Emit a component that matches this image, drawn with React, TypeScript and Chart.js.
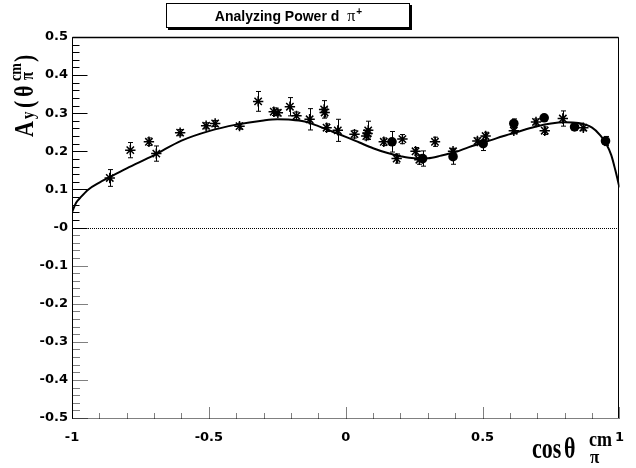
import React, { useEffect, useRef } from "react";
import { Chart, registerables } from "chart.js";

Chart.register(...registerables);

// Theory curve
const curveX = [-1.0, -0.985, -0.97, -0.94, -0.9, -0.86, -0.8, -0.7, -0.6, -0.5, -0.4, -0.3, -0.25, -0.2, -0.15, -0.1, -0.05, 0.0, 0.05, 0.1, 0.15, 0.2, 0.25, 0.3, 0.35, 0.4, 0.45, 0.5, 0.55, 0.6, 0.65, 0.7, 0.75, 0.8, 0.85, 0.9, 0.93, 0.95, 0.97, 0.985, 1.0];
const curveY = [0.04, 0.065, 0.078, 0.1, 0.118, 0.133, 0.155, 0.19, 0.228, 0.253, 0.27, 0.281, 0.284, 0.283, 0.278, 0.266, 0.252, 0.238, 0.223, 0.208, 0.196, 0.187, 0.182, 0.182, 0.189, 0.198, 0.211, 0.222, 0.234, 0.245, 0.256, 0.266, 0.273, 0.276, 0.274, 0.262, 0.242, 0.222, 0.19, 0.15, 0.105];

// Asterisk data points
const starX = [-0.862, -0.787, -0.719, -0.692, -0.605, -0.51, -0.477, -0.388, -0.32, -0.263, -0.248, -0.204, -0.18, -0.132, -0.079, -0.077, -0.07, -0.029, 0.032, 0.082, 0.08, 0.075, 0.139, 0.186, 0.207, 0.255, 0.269, 0.326, 0.392, 0.481, 0.511, 0.614, 0.695, 0.727, 0.793, 0.868];
const starY = [0.13, 0.203, 0.225, 0.194, 0.249, 0.267, 0.273, 0.266, 0.331, 0.304, 0.301, 0.317, 0.293, 0.284, 0.31, 0.302, 0.262, 0.255, 0.245, 0.255, 0.247, 0.24, 0.225, 0.181, 0.232, 0.2, 0.178, 0.225, 0.2, 0.227, 0.24, 0.254, 0.277, 0.254, 0.286, 0.262];
const starErr = [0.022, 0.02, 0.01, 0.02, 0.008, 0.008, 0.008, 0.008, 0.026, 0.01, 0.008, 0.024, 0.01, 0.028, 0.023, 0.012, 0.01, 0.029, 0.01, 0.024, 0.012, 0.01, 0.01, 0.012, 0.012, 0.01, 0.012, 0.012, 0.008, 0.008, 0.01, 0.008, 0.008, 0.01, 0.02, 0.008];

// Filled circle data points
const circleX = [0.169, 0.281, 0.392, 0.502, 0.614, 0.725, 0.836, 0.949];
const circleY = [0.225, 0.181, 0.186, 0.22, 0.273, 0.288, 0.264, 0.227];
const circleErr = [0.027, 0.02, 0.02, 0.018, 0.012, 0.008, 0.008, 0.012];

// Axis tick labels
const xTickLabels = ["-1", "-0.5", "0", "0.5", "1"];
const yTickLabels = ["-0.5", "-0.4", "-0.3", "-0.2", "-0.1", "-0", "0.1", "0.2", "0.3", "0.4", "0.5"];

const SANS = "'Liberation Sans', Arial, sans-serif";
const SERIF = "'Liberation Serif', 'Times New Roman', serif";

function piece(ctx: CanvasRenderingContext2D, text: string, font: string, x: number, y: number, k: number) {
  ctx.save();
  ctx.translate(x, y);
  ctx.scale(1, k);
  ctx.font = font;
  ctx.textAlign = "left";
  ctx.textBaseline = "alphabetic";
  ctx.fillText(text, 0, 0);
  ctx.restore();
}

const rootPlugin = {
  id: "rootStyle",
  beforeDatasetsDraw(chart: any) {
    const ctx = chart.ctx as CanvasRenderingContext2D;
    const xs = chart.scales.x;
    const ys = chart.scales.y;
    const a = chart.chartArea;
    ctx.save();
    ctx.strokeStyle = "#000";
    ctx.lineWidth = 1;
    ctx.setLineDash([1, 1]);
    const y0 = Math.round(ys.getPixelForValue(0)) + 0.5;
    ctx.beginPath();
    ctx.moveTo(a.left, y0);
    ctx.lineTo(a.right, y0);
    ctx.stroke();
    ctx.setLineDash([]);
    chart.data.datasets.forEach((ds: any) => {
      if (!ds.yErr) return;
      ds.data.forEach((p: any, i: number) => {
        const e = ds.yErr[i];
        const px = Math.round(xs.getPixelForValue(p.x)) + 0.5;
        const t = ys.getPixelForValue(p.y + e);
        const b = ys.getPixelForValue(p.y - e);
        ctx.beginPath();
        ctx.moveTo(px, t);
        ctx.lineTo(px, b);
        ctx.moveTo(px - 2.5, t);
        ctx.lineTo(px + 2.5, t);
        ctx.moveTo(px - 2.5, b);
        ctx.lineTo(px + 2.5, b);
        ctx.stroke();
      });
    });
    ctx.restore();
  },
  afterDraw(chart: any) {
    const ctx = chart.ctx as CanvasRenderingContext2D;
    const xs = chart.scales.x;
    const ys = chart.scales.y;
    const a = chart.chartArea;
    ctx.save();
    ctx.strokeStyle = "#000";
    ctx.fillStyle = "#000";
    ctx.lineWidth = 1;
    const L = Math.round(a.left) + 0.5;
    const R = Math.round(a.right) - 0.5;
    const T = Math.round(a.top) + 0.5;
    const B = Math.round(a.bottom) + 0.5;
    ctx.beginPath();
    ctx.moveTo(L, B);
    ctx.lineTo(L, T);
    ctx.lineTo(R, T);
    ctx.lineTo(R, B);
    ctx.stroke();
    ctx.lineWidth = 1.6;
    ctx.beginPath();
    ctx.moveTo(L, T);
    ctx.lineTo(R, T);
    ctx.stroke();
    ctx.lineWidth = 1;
    ctx.setLineDash([1, 1]);
    ctx.beginPath();
    ctx.moveTo(L, B);
    ctx.lineTo(R, B);
    ctx.stroke();
    for (let i = 0; i <= 20; i++) {
      const v = -1 + i * 0.1;
      const px = Math.round(xs.getPixelForValue(v)) + 0.5;
      const len = i % 5 === 0 ? 12 : 6;
      ctx.beginPath();
      ctx.moveTo(px, B);
      ctx.lineTo(px, B - len);
      ctx.stroke();
    }
    for (let i = 0; i <= 50; i++) {
      const v = -0.5 + i * 0.02;
      const py = Math.round(ys.getPixelForValue(v)) + 0.5;
      const len = i % 5 === 0 ? 15 : 7;
      ctx.setLineDash(v < -0.001 ? [1, 1] : []);
      ctx.beginPath();
      ctx.moveTo(L, py);
      ctx.lineTo(L + len, py);
      ctx.stroke();
    }
    ctx.setLineDash([]);

    // Title box with shadow
    ctx.fillStyle = "#000";
    ctx.fillRect(168, 5, 244, 25);
    ctx.fillStyle = "#fff";
    ctx.fillRect(166, 3, 244, 25);
    ctx.strokeRect(166.5, 3.5, 243, 24);
    ctx.fillStyle = "#000";
    const tf = `bold 14px ${SANS}`;
    ctx.font = tf;
    const w1 = ctx.measureText("Analyzing Power d").width;
    ctx.font = `16px ${SERIF}`;
    const w2 = ctx.measureText("  \u03c0").width;
    ctx.font = `10px ${SANS}`;
    const w3 = ctx.measureText("+").width;
    const x0 = 288 - (w1 + w2 + w3) / 2;
    piece(ctx, "Analyzing Power d", tf, x0, 21, 1);
    piece(ctx, "  \u03c0", `16px ${SERIF}`, x0 + w1, 21, 1);
    piece(ctx, "+", `bold 10px ${SANS}`, x0 + w1 + w2 + 1, 15, 1);

    // Y axis title (rotated)
    ctx.save();
    ctx.translate(33, 137);
    ctx.rotate(-Math.PI / 2);
    const k = 1.25;
    piece(ctx, "A", `bold 22px ${SERIF}`, 0, 0, k);
    piece(ctx, "y", `bold 15px ${SERIF}`, 18, 1, k);
    piece(ctx, "(", `bold 22px ${SERIF}`, 29, 0, k);
    piece(ctx, "\u03b8", `bold 22px ${SERIF}`, 40, 0, k);
    piece(ctx, "cm", `bold 14px ${SERIF}`, 56, -12, k);
    piece(ctx, "\u03c0", `bold 15px ${SERIF}`, 57, 0, k);
    piece(ctx, ")", `bold 22px ${SERIF}`, 75, 0, k);
    ctx.restore();

    // X axis title
    piece(ctx, "cos", `bold 22px ${SERIF}`, 532, 458, 1.3);
    piece(ctx, "\u03b8", `bold 22px ${SERIF}`, 564, 458, 1.3);
    piece(ctx, "cm", `bold 18px ${SERIF}`, 589, 446, 1.2);
    piece(ctx, "\u03c0", `bold 17px ${SERIF}`, 590, 463, 1.1);
    ctx.restore();
  },
};

export default function App() {
  const ref = useRef<HTMLCanvasElement | null>(null);
  useEffect(() => {
    if (!ref.current) return;
    const chart = new Chart(ref.current, {
      type: "scatter",
      data: {
        datasets: [
          {
            type: "line",
            label: "theory",
            data: curveX.map((x, i) => ({ x, y: curveY[i] })),
            borderColor: "#000",
            borderWidth: 2,
            pointRadius: 0,
            fill: false,
            cubicInterpolationMode: "monotone",
            order: 3,
          } as any,
          {
            label: "stars",
            data: starX.map((x, i) => ({ x, y: starY[i] })),
            yErr: starErr,
            pointStyle: "star",
            pointRadius: 5.2,
            borderColor: "#000",
            backgroundColor: "#000",
            borderWidth: 1.5,
            order: 2,
          } as any,
          {
            label: "circles",
            data: circleX.map((x, i) => ({ x, y: circleY[i] })),
            yErr: circleErr,
            pointStyle: "circle",
            pointRadius: 4.8,
            borderColor: "#000",
            backgroundColor: "#000",
            borderWidth: 0,
            order: 1,
          } as any,
        ],
      },
      options: {
        responsive: false,
        animation: false,
        devicePixelRatio: 1,
        layout: { padding: { top: 37, right: 4, left: 0, bottom: 0 } },
        plugins: { legend: { display: false }, tooltip: { enabled: false }, title: { display: false } },
        scales: {
          x: {
            type: "linear",
            min: -1,
            max: 1,
            grid: { display: false, drawTicks: false },
            border: { display: false },
            ticks: {
              stepSize: 0.5,
              color: "#000",
              padding: 12,
              maxRotation: 0,
              font: { family: "'DejaVu Sans'", weight: "bold", size: 13 },
              callback: (_v: any, i: number) => xTickLabels[i],
            },
            afterFit: (s: any) => {
              s.height = 50;
            },
          },
          y: {
            type: "linear",
            min: -0.5,
            max: 0.5,
            grid: { display: false, drawTicks: false },
            border: { display: false },
            ticks: {
              stepSize: 0.1,
              color: "#000",
              padding: 4,
              font: { family: "'DejaVu Sans'", weight: "bold", size: 13 },
              callback: (_v: any, i: number) => yTickLabels[i],
            },
            afterFit: (s: any) => {
              s.width = 72;
            },
          },
        },
      } as any,
      plugins: [rootPlugin],
    });
    return () => chart.destroy();
  }, []);
  return (
    <div style={{ position: "fixed", left: 0, top: 0, width: 636, height: 468, background: "#fff" }}>
      <canvas ref={ref} width={636} height={468} style={{ display: "block" }} />
    </div>
  );
}
